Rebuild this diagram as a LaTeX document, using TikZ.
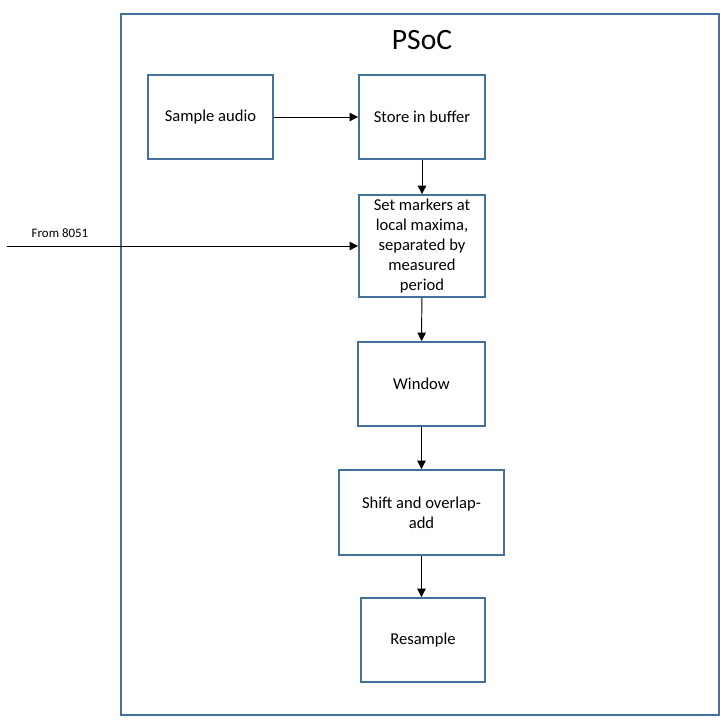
\documentclass[tikz,border=0pt]{standalone}
\usepackage{fontspec}
\setmainfont{Carlito}
\usetikzlibrary{arrows.meta}
\definecolor{psocblue}{RGB}{65,113,156}

\tikzset{
    blockbox/.style={draw=psocblue, line width=1.3pt, align=center, inner sep=2pt,
        font=\fontsize{11.8}{14.2}\selectfont},
    flowarrow/.style={line width=0.7pt, -{Triangle[length=6pt, width=6pt]}}
}

\begin{document}
\begin{tikzpicture}[x=0.025cm, y=-0.025cm]
    \useasboundingbox (0, 0) rectangle (726, 726);
    % PSoC frame and title
    \node[draw=psocblue, line width=1.3pt, minimum width=14.95cm, minimum height=17.525cm] (psoc) at (420, 364.5) {};
    \node[font=\fontsize{21}{24}\selectfont] (title) at (422, 40) {PSoC};
    % Blocks
    \node[blockbox, minimum width=3.125cm, minimum height=2.1cm] (sample) at (210.5, 117) {Sample audio};
    \node[blockbox, minimum width=3.15cm, minimum height=2.1cm] (store) at (422, 117) {Store in buffer};
    \node[blockbox, minimum width=3.15cm, minimum height=2.55cm] (markers) at (422, 246) {Set markers at\\local maxima,\\separated by\\measured\\period};
    \node[blockbox, minimum width=3.175cm, minimum height=2.1cm] (window) at (421.5, 384) {Window};
    \node[blockbox, minimum width=4.125cm, minimum height=2.125cm] (shift) at (421.5, 512.5) {Shift and overlap-\\add};
    \node[blockbox, minimum width=3.1cm, minimum height=2.1cm] (resample) at (423, 640) {Resample};
    % Input from 8051
    \coordinate (in8051) at (7, 246);
    \node[font=\fontsize{9.2}{11}\selectfont] (inlabel) at (60, 233) {From 8051};
    % Arrows
    \draw[flowarrow] (sample) -- (store);
    \draw[flowarrow] (store) -- (markers);
    \draw[flowarrow] (in8051) -- (markers.west);
    \draw[flowarrow] (markers) -- (window);
    \draw[flowarrow] (window) -- (shift);
    \draw[flowarrow] (shift.south) -- (shift.south |- resample.north);
\end{tikzpicture}
\end{document}
